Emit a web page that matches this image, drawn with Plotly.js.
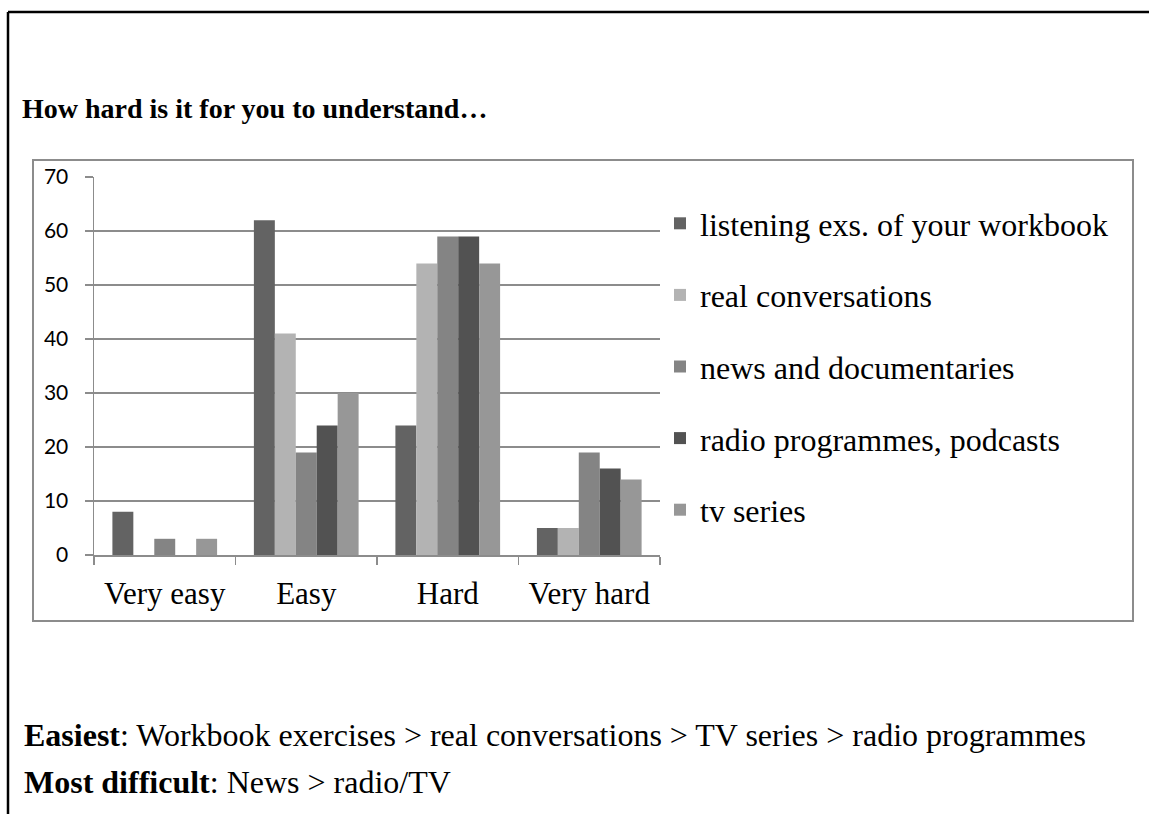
<!DOCTYPE html>
<html>
<head>
<meta charset="utf-8">
<script src="https://cdn.plot.ly/plotly-3.0.1.min.js"></script>
<style>
html,body{margin:0;padding:0;background:#fff;}
#chart{width:1149px;height:814px;}
</style>
</head>
<body>
<div id="chart"></div>
<script>
// ---- data ----
const categories = ["Very easy", "Easy", "Hard", "Very hard"];
const seriesNames = [
  "listening exs. of your workbook",
  "real conversations",
  "news and documentaries",
  "radio programmes, podcasts",
  "tv series"
];
const workbook   = [8, 62, 24, 5];
const realConv   = [0, 41, 54, 5];
const news       = [3, 19, 59, 19];
const radio      = [0, 24, 59, 16];
const tvSeries   = [3, 30, 54, 14];
const yTicks     = [0, 10, 20, 30, 40, 50, 60, 70];
const titleText  = "<b>How hard is it for you to understand…</b>";
const note1      = "<b>Easiest</b>: Workbook exercises &gt; real conversations &gt; TV series &gt; radio programmes";
const note2      = "<b>Most difficult</b>: News &gt; radio/TV";

const seriesValues = [workbook, realConv, news, radio, tvSeries];
const seriesColors = ["#636363", "#b3b3b3", "#848484", "#525252", "#979797"];

// ---- layout geometry (pixels) ----
const W = 1149, H = 814;
const plotL = 94, plotR = 660, plotT = 177, plotB = 555;
const pw = plotR - plotL, ph = plotB - plotT;
const px = x => (x - plotL) / pw;
const py = y => (plotB - y) / ph;

const serif = "Liberation Serif, Times New Roman, serif";

const traces = seriesNames.map((name, i) => ({
  type: "bar",
  name: name,
  x: categories,
  y: seriesValues[i],
  marker: {color: seriesColors[i], line: {width: 0}},
  legendgroup: "g" + i,
  hoverinfo: "skip"
}));

const layout = {
  width: W, height: H,
  margin: {l: plotL, r: W - plotR, t: plotT, b: H - plotB, autoexpand: false},
  paper_bgcolor: "#ffffff",
  plot_bgcolor: "#ffffff",
  barmode: "group",
  bargap: 0.26,
  bargroupgap: 0,
  showlegend: true,
  legend: {
    x: px(660), y: py(196), xanchor: "left", yanchor: "top",
    font: {family: serif, size: 32, color: "#000"},
    tracegroupgap: 27,
    traceorder: "grouped",
    bgcolor: "rgba(0,0,0,0)",
    borderwidth: 0
  },
  xaxis: {
    type: "category",
    range: [-0.5, 3.5],
    tickson: "boundaries",
    ticks: "outside",
    ticklen: 8,
    tickwidth: 1.5,
    tickcolor: "#8c8c8c",
    showline: true,
    linecolor: "#8c8c8c",
    linewidth: 1.5,
    showgrid: false,
    zeroline: false,
    tickfont: {family: serif, size: 31, color: "#000"},
    ticklabelstandoff: 10,
    fixedrange: true
  },
  yaxis: {
    range: [0, 70],
    tickvals: yTicks,
    ticktext: yTicks.map(String),
    ticks: "outside",
    ticklen: 8,
    tickwidth: 1.5,
    tickcolor: "#8c8c8c",
    showline: true,
    linecolor: "#8c8c8c",
    linewidth: 1.5,
    showgrid: true,
    gridcolor: "#8c8c8c",
    gridwidth: 1.5,
    zeroline: false,
    tickfont: {family: "Lato, Carlito, Calibri, sans-serif", size: 21, color: "#000"},
    ticklabelstandoff: 12,
    fixedrange: true
  },
  shapes: [
    {type: "line", xref: "paper", yref: "paper", x0: px(8), x1: px(8), y0: py(12), y1: py(H + 5),
     line: {color: "#000", width: 2.5}, layer: "above"},
    {type: "line", xref: "paper", yref: "paper", x0: px(8), x1: px(W + 5), y0: py(12), y1: py(12),
     line: {color: "#000", width: 2.5}, layer: "above"},
    {type: "rect", xref: "paper", yref: "paper", x0: px(33), x1: px(1133), y0: py(160), y1: py(621),
     line: {color: "#8c8c8c", width: 2}, fillcolor: "rgba(0,0,0,0)", layer: "below"}
  ],
  annotations: [
    {xref: "paper", yref: "paper", x: px(20), y: py(108), xanchor: "left", yanchor: "middle",
     text: titleText, showarrow: false, font: {family: serif, size: 28, color: "#000"}},
    {xref: "paper", yref: "paper", x: px(22), y: py(735), xanchor: "left", yanchor: "middle",
     text: note1, showarrow: false, font: {family: serif, size: 32, color: "#000"}},
    {xref: "paper", yref: "paper", x: px(22), y: py(782), xanchor: "left", yanchor: "middle",
     text: note2, showarrow: false, font: {family: serif, size: 32, color: "#000"}}
  ]
};

Plotly.newPlot("chart", traces, layout, {displayModeBar: false, staticPlot: true});
</script>
</body>
</html>
